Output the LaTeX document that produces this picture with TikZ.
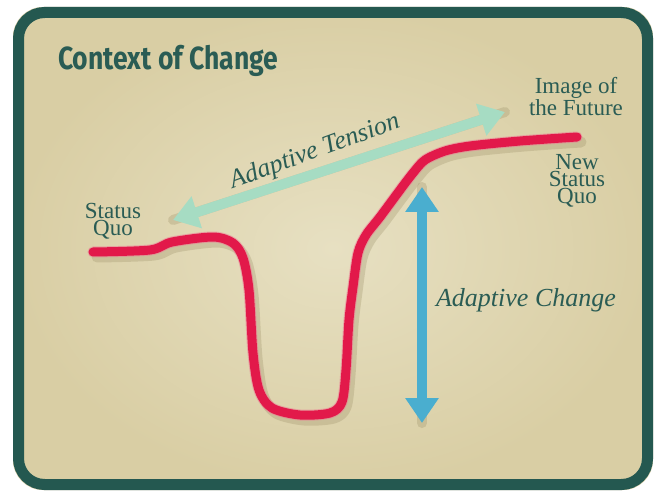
\documentclass[tikz,border=0pt]{standalone}
\usepackage{fontspec}
\usetikzlibrary{arrows.meta}
\setmainfont{Liberation Serif}
\newfontfamily\titlefont{Fira Sans}
\definecolor{framecol}{HTML}{245850}
\definecolor{bgin}{HTML}{E7E0C2}
\definecolor{bgout}{HTML}{D9CEA4}
\definecolor{tealtxt}{HTML}{2A5C54}
\definecolor{curvered}{HTML}{E2194A}
\definecolor{tensiongreen}{HTML}{A6DCC3}
\definecolor{changeblue}{HTML}{4AAECF}
\definecolor{shadowcol}{HTML}{9C9068}
\tikzset{
  lab/.style={text=tealtxt, font=\fontsize{23}{17}\selectfont, align=center, inner sep=0pt, anchor=north},
  italab/.style={text=tealtxt, font=\fontsize{26}{28}\selectfont\itshape, inner sep=0pt, anchor=base},
  bigarrow/.style={line width=10pt, {Triangle[width=32pt,length=25pt]}-{Triangle[width=32pt,length=25pt]}},
  shadowline/.style={shadowcol, opacity=0.3, line cap=round, line join=round}
}
\begin{document}
\begin{tikzpicture}[x=1pt,y=-1pt]
\useasboundingbox (0,0) rectangle (657,492);
\fill[white] (0,0) rectangle (657,492);
% panel
\shade[rounded corners=30pt, inner color=bgin, outer color=bgout] (13,7) rectangle (653,490);
\draw[framecol, line width=11pt, rounded corners=26pt] (18.5,12.5) rectangle (647.5,484.5);
% title
\node[anchor=base west, inner sep=0pt, text=tealtxt] (title) at (58,70)
  {\scalebox{0.83}[1]{\titlefont\bfseries\fontsize{32}{36}\selectfont Context of Change}};
% coordinates for connectors
\coordinate (tl) at (173,220);
\coordinate (tr) at (505,112);
\coordinate (ct) at (422,187);
\coordinate (cb) at (422,423);
% shadows
\begin{scope}[shift={(4,5)}]
\draw[shadowline, line width=11pt] plot[smooth, tension=0.5] coordinates {(93,252) (150,250) (172,242) (213,237) (233,243) (243,258) (249,290) (253,353) (259,390) (272,408) (300,415) (330,413) (342,402) (346,370) (349,320) (353,287) (358,253) (366,235) (380,217) (400,190) (413,173) (425,160) (445,151) (470,146) (520,141) (577,137)};
\draw[shadowline, line width=10pt] (tl) -- (tr);
\draw[shadowline, line width=10pt] (ct) -- (cb);
\end{scope}
% adaptive tension arrow
\draw[tensiongreen, bigarrow] (tl) -- (tr);
% status quo curve
\draw[curvered!60, line width=11pt, line cap=round, line join=round, opacity=0.5] plot[smooth, tension=0.5] coordinates {(93,252) (150,250) (172,242) (213,237) (233,243) (243,258) (249,290) (253,353) (259,390) (272,408) (300,415) (330,413) (342,402) (346,370) (349,320) (353,287) (358,253) (366,235) (380,217) (400,190) (413,173) (425,160) (445,151) (470,146) (520,141) (577,137)};
\draw[curvered, line width=9pt, line cap=round, line join=round] plot[smooth, tension=0.5] coordinates {(93,252) (150,250) (172,242) (213,237) (233,243) (243,258) (249,290) (253,353) (259,390) (272,408) (300,415) (330,413) (342,402) (346,370) (349,320) (353,287) (358,253) (366,235) (380,217) (400,190) (413,173) (425,160) (445,151) (470,146) (520,141) (577,137)};
% adaptive change arrow
\draw[changeblue, bigarrow] (ct) -- (cb);
% labels
\node[lab] (sq) at (113,203) {Status\\Quo};
\node[lab, font=\fontsize{23}{22}\selectfont] (img) at (576,77) {Image of\\the Future};
\node[lab] (nsq) at (577,154) {New\\Status\\Quo};
\node[italab, rotate=20] (tens) at (317,158) {Adaptive Tension};
\node[italab] (chg) at (526,307) {Adaptive Change};
\end{tikzpicture}
\end{document}
